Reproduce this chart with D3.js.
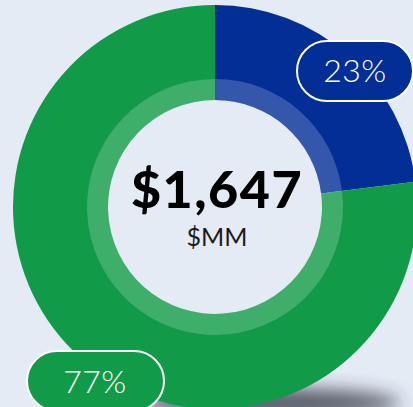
<!DOCTYPE html>
<html><head><meta charset="utf-8">
<script src="https://cdn.jsdelivr.net/npm/d3@7"></script>
<style>
html,body{margin:0;padding:0;background:#E4EBF5;overflow:hidden;}
svg{display:block;}
</style></head>
<body>
<svg id="chart" width="413" height="407"></svg>
<script>
const categories = ["Blue segment", "Green segment"];
const shares = [23, 77];
const labels = ["23%", "77%"];
const colors = ["#022E96", "#119A47"];
const totalLabel = "$1,647";
const unitLabel = "$MM";

const W = 413, H = 407;
const cx = 215, cy = 207, rOuter = 202, rRing = 128, rInner = 107;

const svg = d3.select("#chart");
svg.append("rect").attr("width", W).attr("height", H).attr("fill", "#E4EBF5");

const defs = svg.append("defs");
defs.append("filter").attr("id", "blur").attr("x", "-50%").attr("y", "-50%").attr("width", "200%").attr("height", "200%")
  .append("feGaussianBlur").attr("stdDeviation", 9);

// shadow
svg.append("ellipse").attr("cx", 270).attr("cy", 403).attr("rx", 130).attr("ry", 15)
  .attr("fill", "#2a2d3a").attr("opacity", 0.75).attr("filter", "url(#blur)");

const g = svg.append("g").attr("transform", `translate(${cx},${cy})`);
const pie = d3.pie().sort(null).value(d => d)(shares);
const arcOuter = d3.arc().innerRadius(rInner).outerRadius(rOuter);
g.selectAll("path.seg").data(pie).join("path").attr("class", "seg")
  .attr("d", arcOuter).attr("fill", (d, i) => colors[i]);
const arcRing = d3.arc().innerRadius(rInner).outerRadius(rRing);
g.selectAll("path.ring").data(pie).join("path").attr("class", "ring")
  .attr("d", arcRing).attr("fill", "#ffffff").attr("opacity", 0.2);

// center text
g.append("text").attr("x", 2).attr("y", 1).attr("text-anchor", "middle")
  .attr("font-family", "Lato, 'Open Sans', sans-serif").attr("font-weight", 900)
  .attr("font-size", 52).attr("letter-spacing", 1.5).attr("fill", "#000").text(totalLabel);
g.append("text").attr("x", 2).attr("y", 39).attr("text-anchor", "middle")
  .attr("font-family", "Lato, 'Open Sans', sans-serif").attr("font-weight", 400)
  .attr("font-size", 25).attr("fill", "#1a1a1a").text(unitLabel);

// pill labels
const pills = [
  {x: 297, y: 41, w: 116, h: 60, tx: 355, ty: 82},
  {x: 27, y: 351, w: 137, h: 60, tx: 95, ty: 393}
];
pills.forEach((p, i) => {
  svg.append("rect").attr("x", p.x).attr("y", p.y).attr("width", p.w).attr("height", p.h)
    .attr("rx", p.h / 2).attr("ry", p.h / 2)
    .attr("fill", colors[i]).attr("stroke", "#fff").attr("stroke-width", 2);
  svg.append("text").attr("x", p.tx).attr("y", p.ty).attr("text-anchor", "middle")
    .attr("font-family", "Lato, 'Open Sans', sans-serif").attr("font-weight", 300)
    .attr("font-size", 32).attr("letter-spacing", 0.5).attr("fill", "#fff").text(labels[i]);
});
</script>
</body></html>
